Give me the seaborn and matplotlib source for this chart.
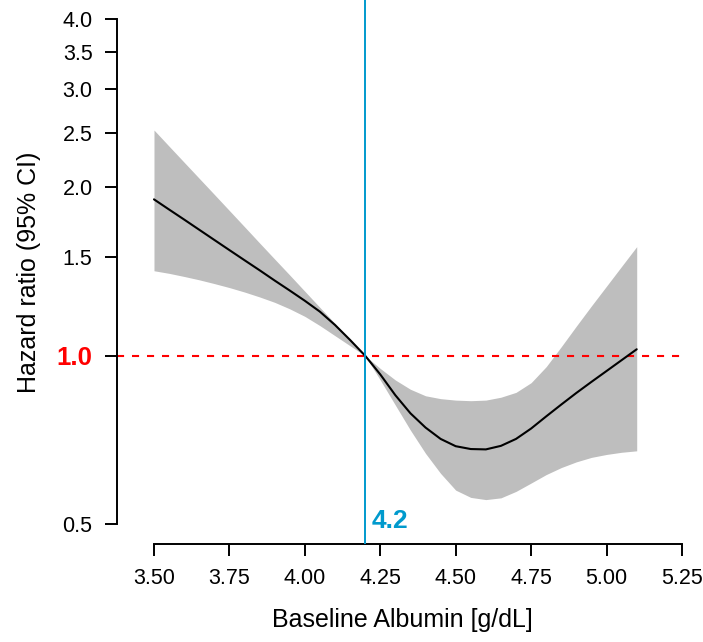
import numpy as np
import pandas as pd
import matplotlib
matplotlib.use("Agg")
import matplotlib.pyplot as plt
import seaborn as sns
from matplotlib.ticker import FixedLocator, FixedFormatter, NullLocator

# ---- data ----
albumin = [3.50, 3.55, 3.60, 3.65, 3.70, 3.75, 3.80, 3.85, 3.90, 3.95,
           4.00, 4.05, 4.10, 4.15, 4.20, 4.25, 4.30, 4.35, 4.40, 4.45,
           4.50, 4.55, 4.60, 4.65, 4.70, 4.75, 4.80, 4.85, 4.90, 4.95,
           5.00, 5.05, 5.10]
hr = [1.904, 1.826, 1.752, 1.680, 1.611, 1.545, 1.482, 1.422, 1.363, 1.308,
      1.254, 1.199, 1.135, 1.067, 1.000, 0.926, 0.850, 0.789, 0.744, 0.710,
      0.689, 0.681, 0.680, 0.690, 0.710, 0.741, 0.779, 0.818, 0.858, 0.898,
      0.939, 0.982, 1.027]
hr_upper = [2.533, 2.370, 2.218, 2.076, 1.943, 1.818, 1.701, 1.591, 1.489, 1.394,
            1.304, 1.220, 1.142, 1.069, 1.000, 0.949, 0.905, 0.871, 0.848, 0.838,
            0.833, 0.831, 0.833, 0.843, 0.860, 0.895, 0.956, 1.038, 1.130, 1.228,
            1.332, 1.445, 1.567]
hr_lower = [1.419, 1.404, 1.386, 1.367, 1.346, 1.324, 1.300, 1.274, 1.246, 1.213,
            1.176, 1.132, 1.086, 1.042, 1.000, 0.905, 0.816, 0.736, 0.669, 0.616,
            0.575, 0.558, 0.553, 0.557, 0.572, 0.592, 0.613, 0.631, 0.646, 0.658,
            0.666, 0.672, 0.676]

x_ticks = [3.50, 3.75, 4.00, 4.25, 4.50, 4.75, 5.00, 5.25]
x_tick_labels = ["3.50", "3.75", "4.00", "4.25", "4.50", "4.75", "5.00", "5.25"]
y_ticks = [0.5, 1.0, 1.5, 2.0, 2.5, 3.0, 3.5, 4.0]
y_tick_labels = ["0.5", "1.0", "1.5", "2.0", "2.5", "3.0", "3.5", "4.0"]
ref_hr = 1.0
ref_albumin = 4.2
ref_label = "4.2"

df = pd.DataFrame({"albumin": albumin, "hr": hr, "lo": hr_lower, "hi": hr_upper})

sns.set_style("ticks")
plt.rcParams["font.family"] = ["Liberation Sans Narrow", "Liberation Sans", "DejaVu Sans"]
plt.rcParams["text.color"] = "black"
plt.rcParams["axes.labelcolor"] = "black"
plt.rcParams["xtick.color"] = "black"
plt.rcParams["ytick.color"] = "black"
plt.rcParams["axes.edgecolor"] = "black"

fig = plt.figure(figsize=(7.03, 6.42), dpi=100)
ax = fig.add_axes([117/703, 1 - 544/642, (687-117)/703, 544/642])

ax.set_yscale("log")
ax.set_xlim(3.3774, 5.2667)
ax.set_ylim(0.4606, 4.327)

ax.fill_between(df["albumin"], df["lo"], df["hi"], color="#BEBEBE", linewidth=0, zorder=1)
sns.lineplot(data=df, x="albumin", y="hr", color="black", linewidth=1.5, ax=ax, zorder=3)

ax.axhline(ref_hr, color="#FF0000", linewidth=1.5, dashes=(3.4, 3.8), zorder=2)
ax.axvline(ref_albumin, color="#009ACD", linewidth=1.4, zorder=4)
ax.text(4.222, 0.492, ref_label, color="#009ACD", fontsize=19, fontweight="bold",
        va="baseline", ha="left")

# axes styling (R-like detached axes)
for s in ["top", "right"]:
    ax.spines[s].set_visible(False)
ax.spines["left"].set_bounds(0.5, 4.0)
ax.spines["bottom"].set_bounds(3.5, 5.25)
for s in ["left", "bottom"]:
    ax.spines[s].set_linewidth(1.4)
    ax.spines[s].set_color("black")

ax.xaxis.set_major_locator(FixedLocator(x_ticks))
ax.xaxis.set_major_formatter(FixedFormatter(x_tick_labels))
ax.yaxis.set_major_locator(FixedLocator(y_ticks))
ax.yaxis.set_major_formatter(FixedFormatter(y_tick_labels))
ax.yaxis.set_minor_locator(NullLocator())
ax.tick_params(axis="both", which="major", length=8.6, width=1.4, labelsize=15.5,
               pad=9, color="black", labelcolor="black")

for lab in ax.get_yticklabels():
    if lab.get_text() == "1.0":
        lab.set_color("#FF0000")
        lab.set_fontweight("bold")
        lab.set_fontsize(18.5)

ax.set_xlabel("Baseline Albumin [g/dL]", fontsize=18, labelpad=13)
ax.set_ylabel("Hazard ratio (95% CI)", fontsize=18, labelpad=11)

fig.savefig("out.png", dpi=100)
